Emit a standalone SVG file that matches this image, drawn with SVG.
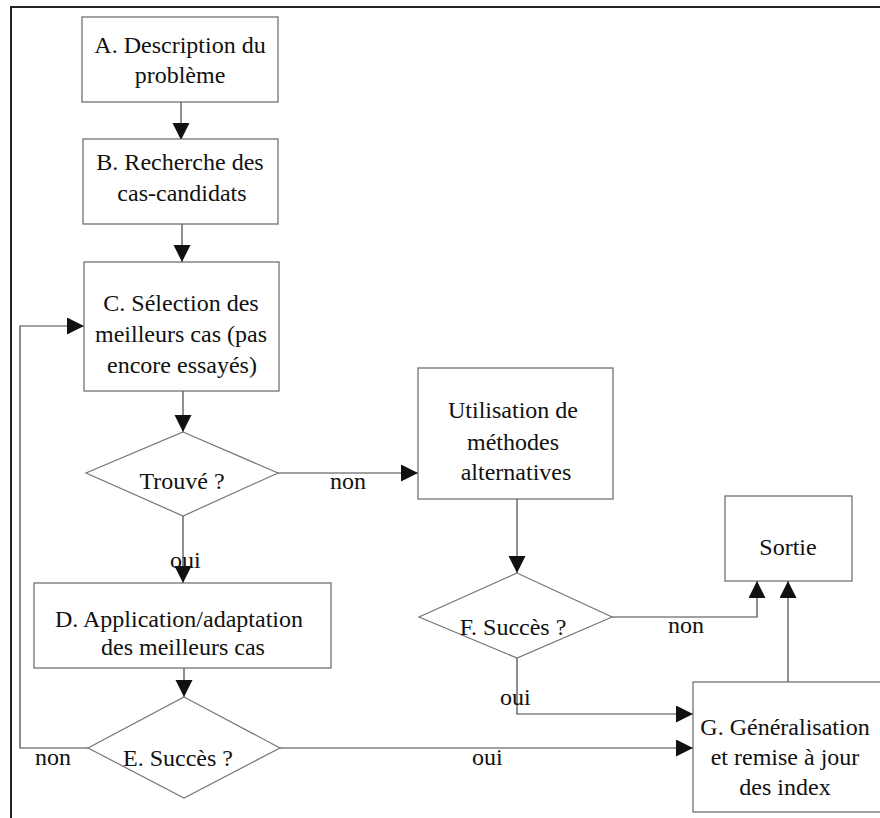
<svg xmlns="http://www.w3.org/2000/svg" width="880" height="818" viewBox="0 0 880 818">
<style>
.box{fill:#fff;stroke:#666;stroke-width:1.2}
.dia{fill:#fff;stroke:#777;stroke-width:1.2}
.t{font-family:"Liberation Serif","Times New Roman",serif;font-size:24px;fill:#111;text-anchor:middle}
.lbl{font-family:"Liberation Serif","Times New Roman",serif;font-size:24px;fill:#111}
.c{fill:none;stroke:#444;stroke-width:1.2}
.frame{fill:none;stroke:#222;stroke-width:2}
</style>
<defs>
<marker id="ah" markerUnits="userSpaceOnUse" markerWidth="18" markerHeight="18" refX="17" refY="8.5" orient="auto">
<path d="M0,0 L17,8.5 L0,17 z" fill="#111"/>
</marker>
</defs>
<rect width="880" height="818" fill="#fff"/>
<g id="frame">
<path class="frame" d="M880,7 L11,7 L11,818"/>
</g>
<g id="connectors">
<path class="c" d="M181,102 V140" marker-end="url(#ah)"/>
<path class="c" d="M182,224 V262" marker-end="url(#ah)"/>
<path class="c" d="M183,391 V432" marker-end="url(#ah)"/>
<path class="c" d="M278,473 H418" marker-end="url(#ah)"/>
<path class="c" d="M183,516 V583" marker-end="url(#ah)"/>
<path class="c" d="M184,668 V697" marker-end="url(#ah)"/>
<path class="c" d="M88,748 H20 V326 H84" marker-end="url(#ah)"/>
<path class="c" d="M280,748 H693" marker-end="url(#ah)"/>
<path class="c" d="M517,499 V573" marker-end="url(#ah)"/>
<path class="c" d="M612,617 H757 V581" marker-end="url(#ah)"/>
<path class="c" d="M517,658 V714 H693" marker-end="url(#ah)"/>
<path class="c" d="M788,682 V581" marker-end="url(#ah)"/>
<text class="lbl" x="330" y="489">non</text>
<text class="lbl" x="170" y="568">oui</text>
<text class="lbl" x="35" y="765">non</text>
<text class="lbl" x="472" y="765">oui</text>
<text class="lbl" x="668" y="633">non</text>
<text class="lbl" x="500" y="705">oui</text>
</g>
<g id="A">
<rect class="box" x="82" y="17" width="196" height="85"/>
<text class="t" x="180" y="53">A. Description du</text>
<text class="t" x="180" y="83">problème</text>
</g>
<g id="B">
<rect class="box" x="83" y="139" width="195" height="85"/>
<text class="t" x="180" y="170">B. Recherche des</text>
<text class="t" x="182" y="201">cas-candidats</text>
</g>
<g id="C">
<rect class="box" x="84" y="262" width="195" height="129"/>
<text class="t" x="181" y="311">C. Sélection des</text>
<text class="t" x="181" y="342">meilleurs cas (pas</text>
<text class="t" x="182" y="373">encore essayés)</text>
</g>
<g id="Trouve">
<polygon class="dia" points="183,432 278,473 183,516 86,473"/>
<text class="t" x="182" y="489">Trouvé ?</text>
</g>
<g id="Utilisation">
<rect class="box" x="418" y="368" width="195" height="131"/>
<text class="t" x="513" y="418">Utilisation de</text>
<text class="t" x="513" y="450">méthodes</text>
<text class="t" x="516" y="480">alternatives</text>
</g>
<g id="Sortie">
<rect class="box" x="725" y="496" width="127" height="85"/>
<text class="t" x="788" y="555">Sortie</text>
</g>
<g id="D">
<rect class="box" x="34" y="583" width="297" height="85"/>
<text class="t" x="179" y="627">D. Application/adaptation</text>
<text class="t" x="183" y="655">des meilleurs cas</text>
</g>
<g id="E">
<polygon class="dia" points="184,697 280,748 184,798 88,748"/>
<text class="t" x="178" y="766">E. Succès ?</text>
</g>
<g id="F">
<polygon class="dia" points="517,573 612,617 517,658 419,617"/>
<text class="t" x="513" y="635">F. Succès ?</text>
</g>
<g id="G">
<rect class="box" x="693" y="682" width="200" height="130"/>
<text class="t" x="785" y="735">G. Généralisation</text>
<text class="t" x="785" y="765">et remise à jour</text>
<text class="t" x="785" y="795">des index</text>
</g>
</svg>
